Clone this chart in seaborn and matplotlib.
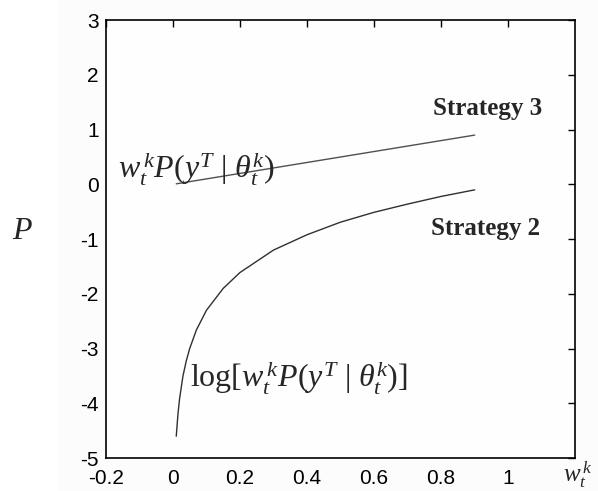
import matplotlib
matplotlib.use("Agg")
import matplotlib.pyplot as plt
from matplotlib.patches import Rectangle
import seaborn as sns
import pandas as pd

# Weight values on the horizontal axis
w = [0.01, 0.015, 0.02, 0.03, 0.04, 0.05, 0.07, 0.1, 0.15, 0.2, 0.3, 0.4,
     0.5, 0.6, 0.7, 0.8, 0.9]
# Strategy 3: weighted probability
strategy3 = [0.01, 0.015, 0.02, 0.03, 0.04, 0.05, 0.07, 0.1, 0.15, 0.2, 0.3,
             0.4, 0.5, 0.6, 0.7, 0.8, 0.9]
# Strategy 2: log of weighted probability
strategy2 = [-4.6, -4.2, -3.91, -3.5, -3.22, -3.0, -2.66, -2.3, -1.9, -1.61,
             -1.2, -0.92, -0.69, -0.51, -0.36, -0.22, -0.1]

x_ticks = [-0.2, 0, 0.2, 0.4, 0.6, 0.8, 1]
x_tick_labels = ["-0.2", "0", "0.2", "0.4", "0.6", "0.8", "1"]
y_ticks = [-5, -4, -3, -2, -1, 0, 1, 2, 3]

df = pd.DataFrame({"w": w + w,
                   "P": strategy3 + strategy2,
                   "strategy": ["Strategy 3"] * len(w) + ["Strategy 2"] * len(w)})

sns.set_style("white")
plt.rcParams["font.family"] = ["Liberation Sans", "DejaVu Sans"]
plt.rcParams["axes.unicode_minus"] = False
plt.rcParams["mathtext.fontset"] = "custom"
plt.rcParams["mathtext.rm"] = "Liberation Serif"
plt.rcParams["mathtext.it"] = "Liberation Serif:italic"
plt.rcParams["mathtext.bf"] = "Liberation Serif:bold"

fig = plt.figure(figsize=(5.98, 4.91), dpi=100, facecolor="#fcfcfc")
fig.patches.append(Rectangle((0, 0), 58 / 598, 1, transform=fig.transFigure,
                             facecolor="white", edgecolor="none", zorder=-1))
ax = fig.add_axes([0.177, 0.067, 0.785, 0.892])
ax.set_facecolor("#fefefe")

sns.lineplot(data=df, x="w", y="P", hue="strategy",
             palette={"Strategy 3": "#505050", "Strategy 2": "#303030"},
             linewidth=1.0, legend=False, ax=ax, sort=False)

ax.set_xlim(-0.2, 1.2)
ax.set_ylim(-5, 3)
ax.set_xticks(x_ticks)
ax.set_xticklabels(x_tick_labels)
ax.set_yticks(y_ticks)
ax.tick_params(direction="in", top=True, right=True, length=5, width=1,
               labelsize=15, colors="black")
ax.tick_params(axis="x", pad=8)
ax.tick_params(axis="y", pad=5)
for s in ax.spines.values():
    s.set_color("black")
    s.set_linewidth(1.2)

ax.set_xlabel("")
ax.set_ylabel("")

serif = ["Liberation Serif", "DejaVu Serif"]
fig.text(22 / 598, 1 - 231 / 491, r"$P$", fontsize=23, ha="center", va="center")
fig.text(578 / 598, 1 - 475 / 491, r"$w_t^{\,k}$", fontsize=18,
         ha="center", va="center")

ax.text(-0.165, 0.28, r"$w_t^{\,k}P(y^T\ |\ \theta_t^{k})$", fontsize=23,
        ha="left", va="center")
ax.text(1.10, 1.38, "Strategy 3", fontsize=18, fontweight="bold",
        family=serif, ha="right", va="center")
ax.text(1.095, -0.8, "Strategy 2", fontsize=18, fontweight="bold",
        family=serif, ha="right", va="center")
ax.text(0.05, -3.55, r"$\mathrm{log}[w_t^{\,k}P(y^T\ |\ \theta_t^{k})]$",
        fontsize=23, ha="left", va="center")

fig.savefig("out.png", dpi=100, facecolor=fig.get_facecolor())
